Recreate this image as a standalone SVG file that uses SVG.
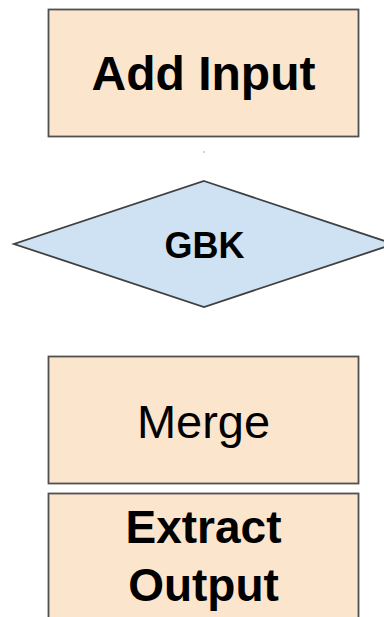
<svg xmlns="http://www.w3.org/2000/svg" width="384" height="617" viewBox="0 0 384 617">
  <style>
    .box { fill: #fce5cd; stroke: #505050; stroke-width: 1.8; }
    .dec { fill: #cfe2f3; stroke: #404040; stroke-width: 1.8; stroke-linejoin: miter; }
    .lbl { font-family: "Liberation Sans", Arial, sans-serif; fill: #000; text-anchor: middle; }
    .b { font-weight: bold; }
  </style>
  <rect width="384" height="617" fill="#ffffff"/>

  <g id="connectors">
    <circle cx="204" cy="152" r="0.8" fill="#9a9a9a"/>
  </g>

  <g id="add-input">
    <rect class="box" x="48.5" y="9.5" width="310" height="127"/>
    <text class="lbl b" x="203.5" y="90" font-size="48">Add Input</text>
  </g>

  <g id="gbk">
    <polygon class="dec" points="204,181 394,244 204,307 14,244"/>
    <text class="lbl b" x="204.5" y="258" font-size="36">GBK</text>
  </g>

  <g id="merge">
    <rect class="box" x="48.5" y="356.5" width="310" height="127"/>
    <text class="lbl" x="203.5" y="437.5" font-size="47">Merge</text>
  </g>

  <g id="extract-output">
    <rect class="box" x="48.5" y="493.5" width="310" height="140"/>
    <text class="lbl b" x="203.5" y="543" font-size="46">Extract</text>
    <text class="lbl b" x="203.5" y="601" font-size="46">Output</text>
  </g>
</svg>
